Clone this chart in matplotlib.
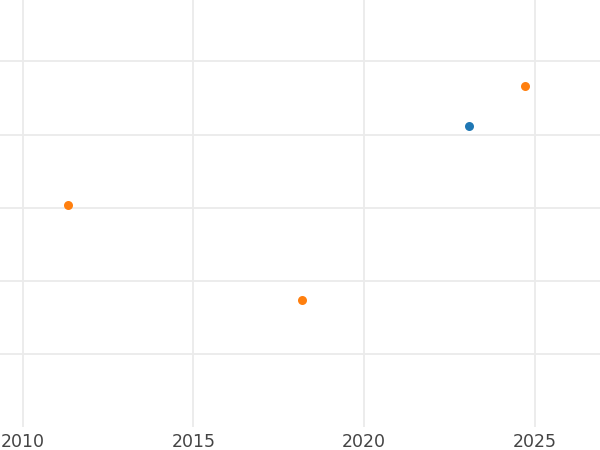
import matplotlib
matplotlib.use("Agg")
import matplotlib.pyplot as plt

# data
blue_x = [2023.09]
blue_y = [4.12]
orange_x = [2011.32, 2018.17, 2024.72]
orange_y = [3.04, 1.74, 4.67]
x_ticks = [2010, 2015, 2020, 2025]
y_grid = [1, 2, 3, 4, 5]

fig = plt.figure(figsize=(6, 4.5), dpi=100)
ax = fig.add_axes([0, 1 - 427 / 450, 1, 427 / 450])

ax.scatter(blue_x, blue_y, s=42, color="#1f77b4", linewidths=0, zorder=3)
ax.scatter(orange_x, orange_y, s=42, color="#ff7f0e", linewidths=0, zorder=3)

ax.set_xlim(2009.33, 2026.92)
ax.set_ylim(0, 5.84)
ax.set_xticks(x_ticks)
ax.set_xticklabels([str(t) for t in x_ticks])
ax.set_yticks(y_grid)
ax.set_yticklabels([])

ax.grid(True, color="#ebebeb", linewidth=1.3)
ax.set_axisbelow(True)
for s in ax.spines.values():
    s.set_visible(False)
ax.tick_params(axis="both", length=0)
ax.tick_params(axis="x", labelsize=12.5, labelcolor="#444444", pad=4.5)

fig.savefig("out.png", dpi=100)
